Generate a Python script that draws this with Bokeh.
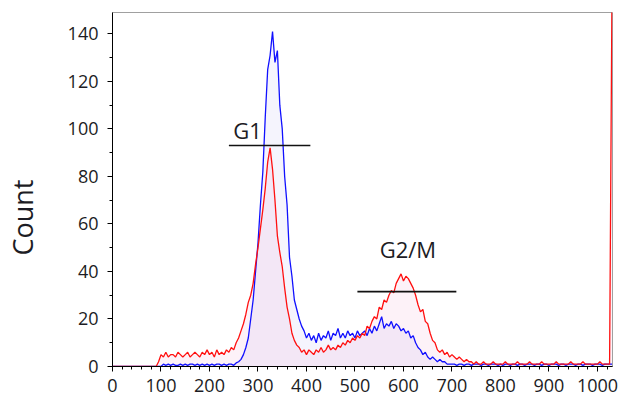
from bokeh.plotting import figure
from bokeh.models import Range1d, FixedTicker, ColumnDataSource
from bokeh.core.properties import value
from bokeh.embed import file_html
from bokeh.resources import INLINE

# histogram channels (every 5th channel)
channels = list(range(0, 1031, 5))

red_counts = [
    0, 0, 0, 0, 0, 0, 0, 0, 0, 0, 0, 0, 0, 0, 0, 0, 0, 0, 0, 2,
    5, 4, 6, 4, 5, 5, 4, 6, 5, 4, 5, 6, 4, 5, 6, 5, 4, 6, 5, 7,
    5, 6, 4, 7, 5, 6, 5, 7, 6, 8, 7, 10, 12, 15, 18, 22, 27, 30, 35, 43,
    50, 58, 66, 75, 86, 92, 83, 70, 55, 48, 42, 33, 25, 20, 14, 11, 9, 8, 6, 7,
    5, 7, 6, 5, 7, 6, 8, 6, 7, 9, 7, 8, 7, 9, 8, 10, 9, 11, 10, 12,
    11, 13, 12, 14, 13, 17, 16, 19, 21, 20, 25, 24, 28, 27, 30, 32, 31, 35, 37, 39,
    36, 38, 37, 35, 33, 30, 26, 23, 24, 19, 18, 14, 11, 10, 7, 6, 7, 5, 6, 4,
    5, 4, 3, 4, 3, 2, 3, 2, 2, 1, 2, 1, 1, 2, 1, 1, 1, 2, 1, 1,
    1, 1, 2, 1, 1, 1, 1, 2, 1, 1, 1, 1, 2, 1, 1, 1, 1, 2, 1, 1,
    1, 1, 1, 2, 1, 1, 1, 1, 1, 2, 1, 1, 1, 1, 2, 1, 1, 1, 1, 1,
    1, 2, 1, 1, 1, 1, 160,
]

blue_counts = [
    0, 0, 0, 0, 0, 0, 0, 0, 0, 0, 0, 0, 0, 0, 0, 0, 0, 0, 0, 0,
    0, 1, 0.5, 1, 0.5, 1, 0.5, 0.5, 1, 0.5, 1, 0.5, 1, 1, 0.5, 1, 0.5, 1, 0.5, 1,
    0.5, 1, 0.5, 1, 1, 0.5, 1, 0.5, 1, 1, 0.5, 1.5, 2, 3, 5, 8, 12, 20, 28, 40,
    52, 68, 82, 105, 125, 131, 141, 128, 133, 110, 100, 80, 68, 46, 38, 28, 24, 20, 17, 15,
    12, 14, 11, 13, 10, 14, 11, 13, 12, 15, 11, 14, 13, 16, 12, 14, 12, 15, 13, 14,
    12, 15, 13, 14, 15, 13, 16, 14, 17, 15, 18, 21, 16, 18, 17, 19, 16, 18, 17, 15,
    16, 14, 15, 12, 13, 10, 8, 7, 5, 6, 4, 3, 4, 3, 2, 3, 2, 2, 1, 1,
    1, 1, 0.5, 1, 1, 0.5, 1, 1, 0.5, 1, 1, 1, 0.5, 1, 1, 0.5, 1, 1, 1, 0.5,
    1, 0.5, 1, 1, 0.5, 1, 1, 0.5, 1, 1, 0.5, 1, 1, 1, 0.5, 1, 1, 0.5, 1, 1,
    0.5, 1, 1, 1, 0.5, 1, 1, 0.5, 1, 1, 1, 0.5, 1, 1, 0.5, 1, 1, 1, 0.5, 1,
    1, 1, 0.5, 1, 1, 1, 1,
]

x_ticks = [0, 100, 200, 300, 400, 500, 600, 700, 800, 900, 1000]
y_ticks = [0, 20, 40, 60, 80, 100, 120, 140]

# gates: name, start, end, level, label position
gate_names = ["G1", "G2/M"]
gate_start = [240, 505]
gate_end = [408, 709]
gate_level = [93, 31.5]
label_x = [249, 551]
label_y = [99.5, 49.5]

FONT = "Open Sans"
TXT = "#1c1c24"

p = figure(width=627, height=396, output_backend="svg", toolbar_location=None,
           x_range=Range1d(0, 1031), y_range=Range1d(0, 149),
           min_border_left=112, min_border_right=15, min_border_top=12, min_border_bottom=30)

src = ColumnDataSource(dict(x=channels, red=red_counts, blue=blue_counts, zero=[0] * len(channels)))

p.varea(x="x", y1="zero", y2="blue", source=src, fill_color="#3c28d8", fill_alpha=0.05)
p.varea(x="x", y1="zero", y2="red", source=src, fill_color="#e0208a", fill_alpha=0.06)
p.line(x="x", y="blue", source=src, line_color="#1010ff", line_width=1.3)
p.line(x="x", y="red", source=src, line_color="#ff1010", line_width=1.3)

gsrc = ColumnDataSource(dict(x0=gate_start, x1=gate_end, y=gate_level,
                             lx=label_x, ly=label_y, name=gate_names))
p.segment(x0="x0", y0="y", x1="x1", y1="y", source=gsrc, line_color="#111111", line_width=1.6)
p.text(x="lx", y="ly", text="name", source=gsrc, text_font=value(FONT),
       text_font_size="22px", text_color=TXT, text_baseline="alphabetic", text_align="left")

p.grid.visible = False
p.background_fill_color = "white"
p.outline_line_color = "#a0a0a0"
p.outline_line_width = 1

for ax in (p.xaxis[0], p.yaxis[0]):
    ax.axis_line_color = "black"
    ax.axis_line_width = 1
    ax.major_tick_out = 5
    ax.major_tick_in = 0
    ax.minor_tick_out = 3
    ax.minor_tick_in = 0
    ax.major_tick_line_color = "black"
    ax.minor_tick_line_color = "black"
    ax.major_label_text_font = FONT
    ax.major_label_text_font_size = "18px"
    ax.major_label_text_color = TXT

p.xaxis.ticker = FixedTicker(ticks=x_ticks, minor_ticks=list(range(0, 1031, 20)))
p.yaxis.ticker = FixedTicker(ticks=y_ticks, minor_ticks=list(range(0, 150, 10)))
p.xaxis.major_label_standoff = 7
p.xaxis.major_label_text_line_height = 0.9
p.yaxis.major_label_standoff = 9

# y-axis title; trailing no-break spaces shift the visible word below the frame centre
p.yaxis.axis_label = "Count" + "\u00a0" * 8
p.yaxis.axis_label_text_font = FONT
p.yaxis.axis_label_text_font_size = "27px"
p.yaxis.axis_label_text_font_style = "normal"
p.yaxis.axis_label_text_color = TXT
p.yaxis.axis_label_standoff = 24

open("out.html", "w").write(file_html(p, INLINE))
